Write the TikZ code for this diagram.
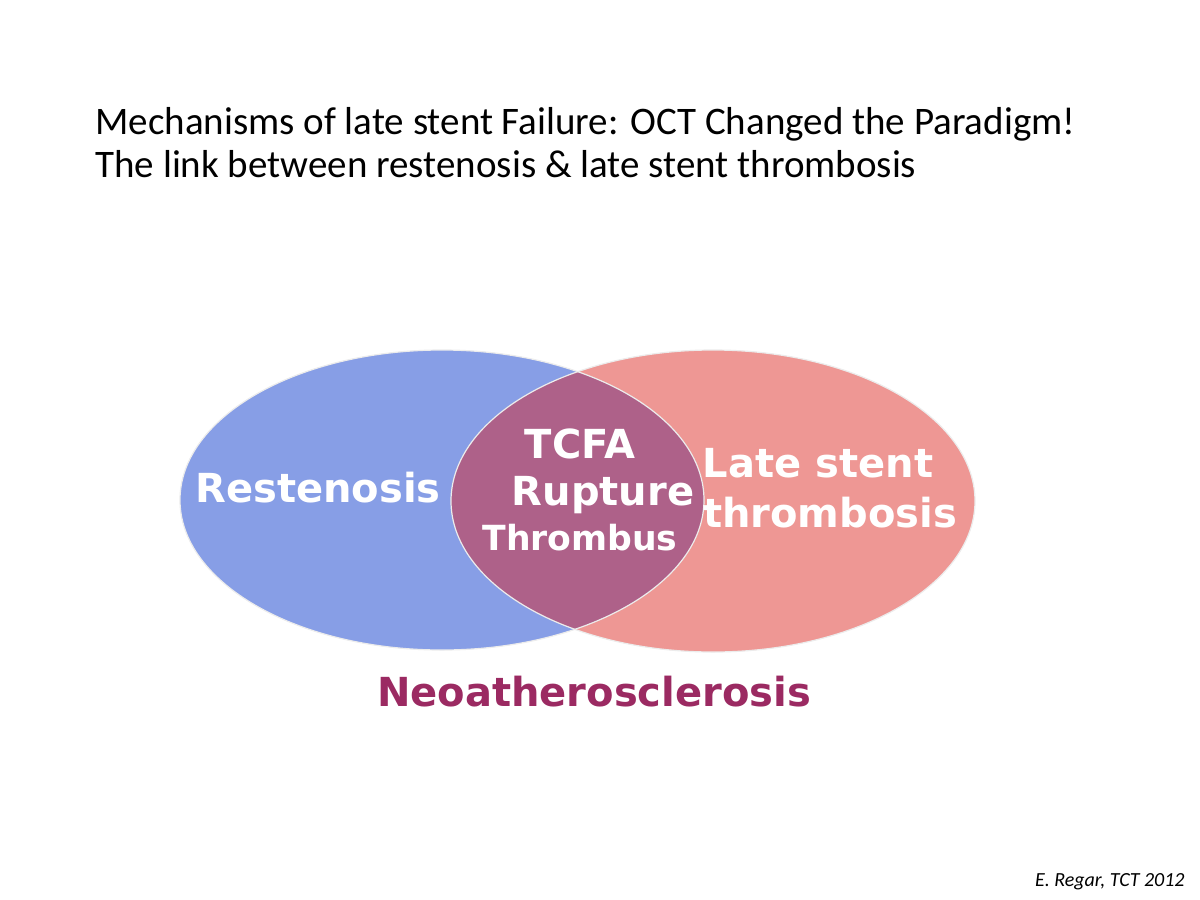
\documentclass[tikz,border=0pt]{standalone}
\usepackage{fontspec}
\setmainfont{Carlito}
\newfontfamily\verd{DejaVu Sans}
\begin{document}
\begin{tikzpicture}[x=0.5pt,y=-0.5pt,
  lab/.style={font=\verd\bfseries\fontsize{20}{22}\selectfont,text=white,inner sep=0pt,align=center}]
\definecolor{bl}{HTML}{879EE6}
\definecolor{rd}{HTML}{EE9794}
\definecolor{ov}{HTML}{AE6189}
\definecolor{neo}{HTML}{9B2A62}
\useasboundingbox[fill=white] (0,0) rectangle (1200,900);
\fill[bl] (442,500) ellipse [x radius=262,y radius=150];
\fill[rd] (713,501) ellipse [x radius=262,y radius=151];
\begin{scope}
\clip (442,500) ellipse [x radius=262,y radius=150];
\fill[ov] (713,501) ellipse [x radius=262,y radius=151];
\end{scope}
\draw[white!85!gray,line width=0.6pt] (442,500) ellipse [x radius=262,y radius=150];
\draw[white!85!gray,line width=0.6pt] (713,501) ellipse [x radius=262,y radius=151];
\node[anchor=west,inner sep=0pt,font=\fontsize{19.5}{21.5}\selectfont,align=left] (title) at (95,143)
 {Mechanisms of late stent Failure: OCT Changed the Paradigm!\\The link between restenosis \& late stent thrombosis};
\node[lab] (rest) at (318,488) {Restenosis};
\node[lab] (tcfa) at (580,444) {TCFA};
\node[lab] (rup) at (603,495) {Rupture};
\node[lab,font=\verd\bfseries\fontsize{17.3}{19}\selectfont] (thr) at (580,538) {Thrombus};
\node[lab] (late) at (818,463) {Late stent};
\node[lab] (lth) at (830,513) {thrombosis};
\node[lab,text=neo] (neo) at (594,692) {Neoatherosclerosis};
\node[anchor=east,inner sep=0pt,font=\itshape\fontsize{10}{11}\selectfont] (ref) at (1185,882) {E. Regar, TCT 2012};
\end{tikzpicture}
\end{document}
